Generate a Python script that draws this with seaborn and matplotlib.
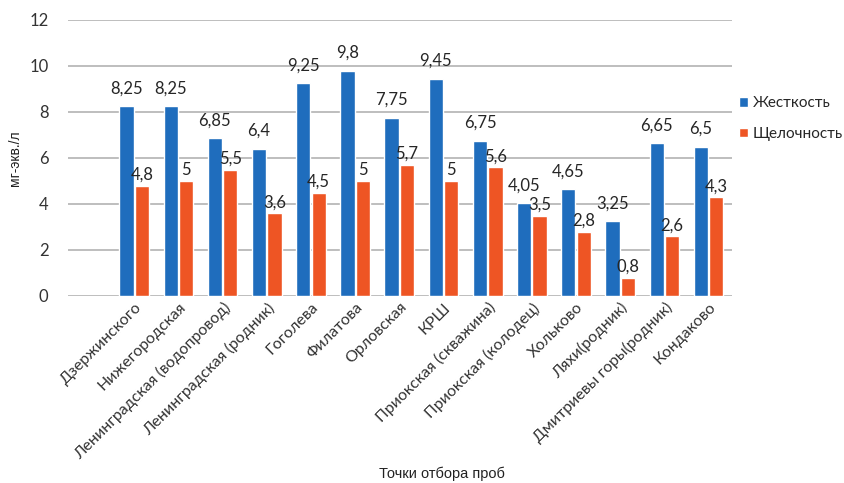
import matplotlib
matplotlib.use("Agg")
import matplotlib.pyplot as plt
import seaborn as sns
import pandas as pd

sites = [
    "Дзержинского", "Нижегородская", "Ленинградская (водопровод)",
    "Ленинградская (родник)", "Гоголева", "Филатова", "Орловская", "КРШ",
    "Приокская (скважина)", "Приокская (колодец)", "Хольково",
    "Ляхи(родник)", "Дмитриевы горы(родник)", "Кондаково",
]
hardness = [8.25, 8.25, 6.85, 6.4, 9.25, 9.8, 7.75, 9.45, 6.75, 4.05, 4.65, 3.25, 6.65, 6.5]
alkalinity = [4.8, 5, 5.5, 3.6, 4.5, 5, 5.7, 5, 5.6, 3.5, 2.8, 0.8, 2.6, 4.3]
series_names = ["Жесткость", "Щелочность"]
y_ticks = [0, 2, 4, 6, 8, 10, 12]

df = pd.DataFrame({
    "site": sites * 2,
    "value": hardness + alkalinity,
    "series": [series_names[0]] * len(sites) + [series_names[1]] * len(sites),
})

sns.set_theme(style="white")
plt.rcParams["font.family"] = ["Lato", "DejaVu Sans"]

fig = plt.figure(figsize=(8.45, 4.83), dpi=100)
ax = fig.add_axes([68 / 845, 1 - 296 / 483, (732 - 68) / 845, (296 - 20) / 483])

palette = {series_names[0]: "#1f6dbd", series_names[1]: "#ee5524"}
sns.barplot(data=df, x="site", y="value", hue="series", order=sites,
            hue_order=series_names, palette=palette, width=0.7, gap=0.08,
            saturation=1, ax=ax, legend=True, zorder=3)

def fmt(v):
    s = f"{v:g}"
    return s.replace(".", ",")

# value labels: hardness a bit higher above its bars, alkalinity close to its tops
for cont, pad in zip(ax.containers, [7, 2]):
    labels = [fmt(b.get_height()) for b in cont]
    ax.bar_label(cont, labels=labels, padding=pad, fontsize=12, color="#262626")

ax.set_ylim(0, 12)
ax.set_xlim(-1.5, 13.53)
ax.set_yticks(y_ticks)
ax.yaxis.grid(True, color="#b3b3b3", linewidth=1.2, zorder=0)
ax.set_axisbelow(True)
for sp in ax.spines.values():
    sp.set_visible(False)
ax.tick_params(axis="y", length=0, pad=14, labelsize=12, labelcolor="#333333")
ax.tick_params(axis="x", length=0, pad=3, labelsize=11.5, labelcolor="#333333")
plt.setp(ax.get_xticklabels(), rotation=45, ha="right", rotation_mode="anchor")

ax.set_xlabel("Точки отбора проб", fontsize=10.5, family=["Liberation Sans", "DejaVu Sans"],
              color="#222222", va="center")
ax.xaxis.set_label_coords((442 - 68) / 664, -(474 - 296) / 276)
ax.set_ylabel("мг-экв./л", fontsize=10, family=["Liberation Sans", "DejaVu Sans"],
              color="#222222", va="center")
ax.yaxis.set_label_coords(-(68 - 15) / 664, 0.5)

leg = ax.legend(loc="upper left", bbox_to_anchor=(733 / 845, 1 - 90 / 483),
                bbox_transform=fig.transFigure, frameon=False, fontsize=11,
                handlelength=0.6, handleheight=0.6, handletextpad=0.3,
                labelspacing=1.1, borderaxespad=0)

fig.savefig("out.png", dpi=100, facecolor="white")
